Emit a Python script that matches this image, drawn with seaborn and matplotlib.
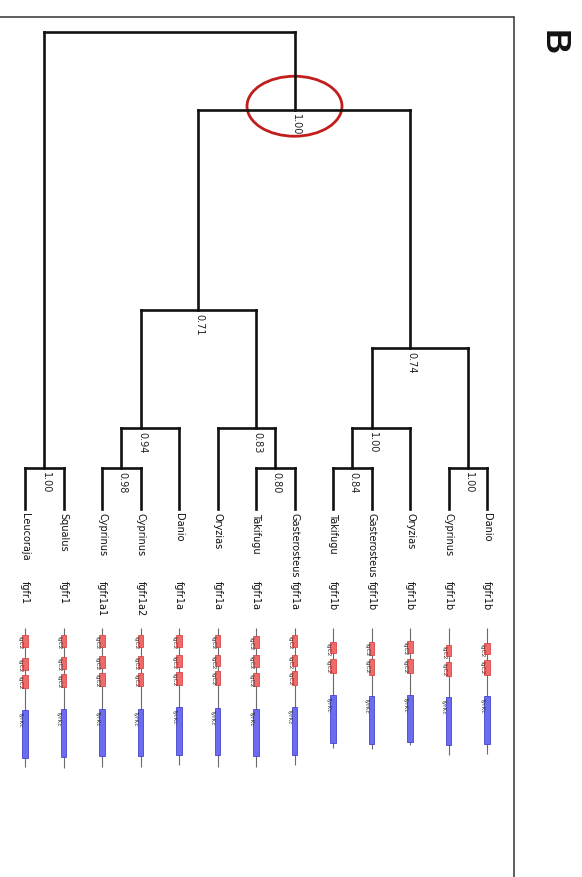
import numpy as np
import pandas as pd
import matplotlib
matplotlib.use("Agg")
import matplotlib.pyplot as plt
from matplotlib.patches import Ellipse
from matplotlib.lines import Line2D
import seaborn as sns

# ---------------- data ----------------
species = ["Leucoraja", "Squalus", "Cyprinus", "Cyprinus", "Danio", "Oryzias",
           "Takifugu", "Gasterosteus", "Takifugu", "Gasterosteus", "Oryzias",
           "Cyprinus", "Danio"]
genes = ["fgfr1", "fgfr1", "fgfr1a1", "fgfr1a2", "fgfr1a", "fgfr1a", "fgfr1a",
         "fgfr1a", "fgfr1b", "fgfr1b", "fgfr1b", "fgfr1b", "fgfr1b"]

# internal nodes: children (leaf index or node name)
clade_children = {
    "root": ["A", "B"],
    "A": [0, 1],
    "B": ["C", "D"],
    "C": ["E", "F"],
    "E": ["G", 4],
    "G": [2, 3],
    "F": [5, "I"],
    "I": [6, 7],
    "D": ["H", "K"],
    "H": ["J", 10],
    "J": [8, 9],
    "K": [11, 12],
}
# node depth from root (leaves at 1.0)
node_depth = {"root": 0.0, "B": 0.164, "C": 0.583, "D": 0.662,
              "E": 0.830, "F": 0.830, "H": 0.830,
              "A": 0.914, "G": 0.914, "I": 0.914, "J": 0.914, "K": 0.914}
leaf_depth = 1.0
support = {"A": "1.00", "B": "1.00", "C": "0.71", "D": "0.74", "E": "0.94",
           "F": "0.83", "G": "0.98", "I": "0.80", "H": "1.00", "J": "0.84",
           "K": "1.00"}

# protein domain architecture (approx. residue positions)
prot_length = [834, 840, 834, 834, 824, 834, 834, 824, 720, 728, 704, 764, 754]
igc2_domains = [
    [(40, 114), (180, 250), (280, 360)],
    [(40, 114), (174, 244), (274, 354)],
    [(40, 114), (168, 238), (268, 348)],
    [(40, 114), (168, 238), (268, 348)],
    [(40, 114), (164, 234), (264, 344)],
    [(40, 114), (160, 230), (260, 340)],
    [(48, 120), (164, 234), (268, 348)],
    [(40, 114), (160, 230), (260, 340)],
    [(84, 150), (184, 268)],
    [(84, 160), (184, 280)],
    [(80, 150), (184, 268)],
    [(100, 168), (204, 288)],
    [(90, 158), (194, 284)],
]
tyrkc_domains = [(494, 780), (488, 774), (484, 768), (484, 768), (474, 760),
                 (480, 764), (484, 768), (474, 760), (404, 688), (408, 694),
                 (400, 684), (414, 700), (408, 694)]

# ---------------- layout ----------------
W, H = 582, 878
sns.set_theme(style="white")
plt.rcParams["font.family"] = ["DejaVu Sans"]

fig = plt.figure(figsize=(W / 100, H / 100), dpi=100)
ax = fig.add_axes([0, 0, 1, 1])
ax2 = fig.add_axes([0, 0, 1, 1])
for a in (ax, ax2):
    a.set_facecolor("none")

LEAF0_PX, LEAF_STEP_PX = 25.0, 38.5
ROOT_PX, LEAF_PX = 33.0, 510.0
DEPTH_PX = LEAF_PX - ROOT_PX
xlim = (-LEAF0_PX / LEAF_STEP_PX, (W - LEAF0_PX) / LEAF_STEP_PX)
ax.set_xlim(*xlim)
ax.set_ylim((H - ROOT_PX) / DEPTH_PX, -ROOT_PX / DEPTH_PX)


def depth_of(n):
    return leaf_depth if isinstance(n, int) else node_depth[n]


def leaves_under(n):
    if isinstance(n, int):
        return [n]
    out = []
    for k in clade_children[n]:
        out += leaves_under(k)
    return out


def node_x(n):
    return float(np.mean(leaves_under(n)))


rows = []
seg = 0
for node, kids in clade_children.items():
    d = node_depth[node]
    xs = [node_x(k) for k in kids]
    rows += [dict(seg=seg, x=min(xs), y=d), dict(seg=seg, x=max(xs), y=d)]
    seg += 1
    for k in kids:
        kx = node_x(k)
        rows += [dict(seg=seg, x=kx, y=d), dict(seg=seg, x=kx, y=depth_of(k))]
        seg += 1
edges = pd.DataFrame(rows)

sns.lineplot(data=edges, x="x", y="y", units="seg", estimator=None, sort=False,
             color="#111111", linewidth=1.9, solid_capstyle="projecting",
             legend=False, ax=ax)
ax.set_xlim(*xlim)
ax.set_ylim((H - ROOT_PX) / DEPTH_PX, -ROOT_PX / DEPTH_PX)
ax.axis("off")

# support values
for node, s in support.items():
    ax.annotate(s, xy=(node_x(node), node_depth[node]), xytext=(1.0, -2.2),
                textcoords="offset points", rotation=-90, rotation_mode="anchor",
                ha="left", va="center", fontsize=7, color="#222222")

# red circle around the key node
ax.add_patch(Ellipse((node_x("B"), node_depth["B"] - 4 / DEPTH_PX),
                     width=95 / LEAF_STEP_PX, height=60 / DEPTH_PX,
                     fill=False, edgecolor="#c21d1d", linewidth=2.0))

# leaf labels and gene names
GENE_PX = 581.0
for i, (sp, g) in enumerate(zip(species, genes)):
    ax.annotate(sp, xy=(i, leaf_depth), xytext=(0, -2.0), textcoords="offset points",
                rotation=-90, rotation_mode="anchor", ha="left", va="center",
                fontsize=7, color="#111111")
    ax.text(i, (GENE_PX - ROOT_PX) / DEPTH_PX, g, rotation=-90,
            rotation_mode="anchor", ha="left", va="center", fontsize=7,
            color="#111111")

# ---------------- domain diagrams ----------------
DOM_TOP_PX, AA_PER_PX = 629.0, 6.0
ax2.set_xlim(*xlim)
ax2.set_ylim((H - DOM_TOP_PX) * AA_PER_PX, -DOM_TOP_PX * AA_PER_PX)
idx = np.arange(len(species))
ax2.vlines(idx, 0, prot_length, color="#6a6a6a", linewidth=0.8, zorder=1)
for i in idx:
    starts = [a for a, b in igc2_domains[i]]
    lens = [b - a for a, b in igc2_domains[i]]
    ax2.bar([i] * len(starts), lens, bottom=starts, width=0.14,
            color="#f06a6a", edgecolor="#d84848", linewidth=0.6, zorder=2)
    for st in starts:
        ax2.annotate("IgC2", xy=(i, st), xytext=(-3.4, 0), textcoords="offset points",
                     rotation=-90, rotation_mode="anchor", ha="left", va="center",
                     fontsize=4.2, color="#333333")
    t0, t1 = tyrkc_domains[i]
    ax2.bar([i], [t1 - t0], bottom=[t0], width=0.13, color="#6c6cf0",
            edgecolor="#4444cc", linewidth=0.6, zorder=2)
    ax2.annotate("TyrKc", xy=(i, t0), xytext=(-3.4, 0), textcoords="offset points",
                 rotation=-90, rotation_mode="anchor", ha="left", va="center",
                 fontsize=4.2, color="#333333")
ax2.axis("off")

# ---------------- frame and panel letter ----------------
FRAME_X, FRAME_Y = 514.0, 17.5
fig.add_artist(Line2D([0, FRAME_X / W], [1 - FRAME_Y / H, 1 - FRAME_Y / H],
                      transform=fig.transFigure, color="#333333", linewidth=1.1))
fig.add_artist(Line2D([FRAME_X / W, FRAME_X / W], [1 - FRAME_Y / H, 0],
                      transform=fig.transFigure, color="#333333", linewidth=1.1))
fig.text(553 / W, 1 - 43 / H, "B", rotation=-90, ha="center", va="center",
         fontsize=25, fontweight="bold", family=["Liberation Sans", "DejaVu Sans"],
         color="#111111")

fig.savefig("out.png", dpi=100)
